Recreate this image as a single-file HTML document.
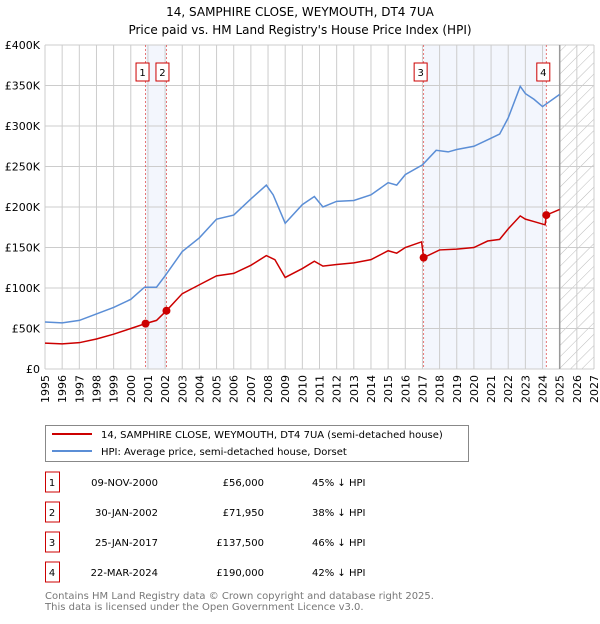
<!DOCTYPE html>
<html><head><meta charset="utf-8"><style>
body{margin:0;background:#fff;font-family:"DejaVu Sans","Liberation Sans",sans-serif;}
svg text{font-family:"DejaVu Sans","Liberation Sans",sans-serif;}
</style></head><body>
<svg id="c" width="600" height="620" viewBox="0 0 600 620">
<text x="300" y="16" text-anchor="middle" font-size="12">14, SAMPHIRE CLOSE, WEYMOUTH, DT4 7UA</text>
<text x="300" y="34" text-anchor="middle" font-size="12">Price paid vs. HM Land Registry's House Price Index (HPI)</text>
<g id="plot"></g>
<g>
<rect x="45.5" y="425.5" width="423" height="36" fill="#fff" stroke="#888"/>
<line x1="52" y1="434" x2="92" y2="434" stroke="#cc0000" stroke-width="2"/>
<text x="101" y="438" font-size="10">14, SAMPHIRE CLOSE, WEYMOUTH, DT4 7UA (semi-detached house)</text>
<line x1="52" y1="451" x2="92" y2="451" stroke="#5b8ed6" stroke-width="2"/>
<text x="101" y="455" font-size="10">HPI: Average price, semi-detached house, Dorset</text>
</g>
<g id="tbl" font-size="10"></g>
<text x="45" y="599" font-size="10" fill="#777">Contains HM Land Registry data © Crown copyright and database right 2025.</text>
<text x="45" y="610" font-size="10" fill="#777">This data is licensed under the Open Government Licence v3.0.</text>
</svg>
<script>
const hpiYears=[1995,1996,1997,1998,1999,2000,2000.8,2001.5,2002,2003,2004,2005,2006,2007,2007.9,2008.3,2009,2010,2010.7,2011.2,2012,2013,2014,2015,2015.5,2016,2017,2017.8,2018.5,2019,2020,2020.8,2021.5,2022,2022.7,2023,2023.5,2024,2025];
const hpiValues=[58,57,60,68,76,86,101,101,115,145,162,185,190,210,227,215,180,203,213,200,207,208,215,230,227,240,252,270,268,271,275,283,290,310,349,340,333,324,339];
const ppYears=[1995,1996,1997,1998,1999,2000,2000.85,2001.5,2002.08,2003,2004,2005,2006,2007,2007.9,2008.4,2009,2010,2010.7,2011.2,2012,2013,2014,2015,2015.5,2016,2016.95,2017.07,2018,2019,2020,2020.8,2021.5,2022,2022.7,2023,2023.5,2024.15,2024.22,2025];
const ppValues=[32,31,32.5,37,43,50,56,60,72,93,104,115,118,128,140,135,113,124,133,127,129,131,135,146,143,150,157,137.5,147,148,150,158,160,173,189,185,182,178,190,197];
const saleYears=[2000.86,2002.08,2017.07,2024.22];
const salePrices=[56,71.95,137.5,190];
const saleLabels=["1","2","3","4"];
const saleDates=["09-NOV-2000","30-JAN-2002","25-JAN-2017","22-MAR-2024"];
const salePriceText=["£56,000","£71,950","£137,500","£190,000"];
const saleHpiText=["45% ↓ HPI","38% ↓ HPI","46% ↓ HPI","42% ↓ HPI"];
const yTicks=[0,50,100,150,200,250,300,350,400];
const yTickLabels=["£0","£50K","£100K","£150K","£200K","£250K","£300K","£350K","£400K"];
const xTicks=[1995,1996,1997,1998,1999,2000,2001,2002,2003,2004,2005,2006,2007,2008,2009,2010,2011,2012,2013,2014,2015,2016,2017,2018,2019,2020,2021,2022,2023,2024,2025,2026,2027];

const L=45,R=594,T=45,B=369;
const X=y=>L+(y-1995)/(2027-1995)*(R-L);
const Y=v=>B-v/400*(B-T);
const NS="http://www.w3.org/2000/svg";
const g=document.getElementById('plot');
function mk(t,a,p){const e=document.createElementNS(NS,t);for(const k in a)e.setAttribute(k,a[k]);(p||g).appendChild(e);return e;}
[[0,1],[2,3]].forEach((p,i)=>{const r=mk('rect',{x:X(saleYears[p[0]]),y:T,width:X(saleYears[p[1]])-X(saleYears[p[0]]),height:B-T,fill:'#f3f6fd'});

});
const defs=mk('defs',{});
const pat=mk('pattern',{id:'h',width:8,height:8,patternUnits:'userSpaceOnUse',patternTransform:'rotate(45)'},defs);
mk('line',{x1:0,y1:0,x2:0,y2:8,stroke:'#bbb','stroke-width':1},pat);
const hr=mk('rect',{x:X(2025),y:T,width:R-X(2025),height:B-T,fill:'url(#h)'});


xTicks.forEach(t=>{mk('line',{x1:X(t),y1:T,x2:X(t),y2:B,stroke:'#ccc'});
const tx=mk('text',{x:0,y:0,'font-size':11,'text-anchor':'end',transform:`translate(${X(t)+4},${B+6}) rotate(-90)`});tx.textContent=t;

});
yTicks.forEach((t,i)=>{mk('line',{x1:L,y1:Y(t),x2:R,y2:Y(t),stroke:'#ccc'});
const tx=mk('text',{x:L-5,y:Y(t)+4,'font-size':11,'text-anchor':'end'});tx.textContent=yTickLabels[i];

});
mk('line',{x1:X(2025),y1:T,x2:X(2025),y2:B,stroke:'#999','stroke-width':1.5});
saleYears.forEach((s,i)=>{mk('line',{x1:X(s),y1:T,x2:X(s),y2:B,stroke:'#e05555','stroke-dasharray':'2,2','stroke-width':0.8});
const cx=X(s)+(i==0?-3:i==1?-4:i==2?-3:-3);
const r=mk('rect',{x:cx-6.5,y:63,width:13,height:18,fill:'#fff',stroke:'#cc0000'});


const t=mk('text',{x:cx,y:76,'font-size':10,'text-anchor':'middle'});t.textContent=saleLabels[i];

});
function line(xs,vs,c,n){const p=mk('polyline',{points:xs.map((x,i)=>X(x)+','+Y(vs[i])).join(' '),fill:'none',stroke:c,'stroke-width':1.5});

}
line(hpiYears,hpiValues,'#5b8ed6','hpi-line');
line(ppYears,ppValues,'#cc0000','price-paid-line');
saleYears.forEach((s,i)=>{const d=mk('circle',{cx:X(s),cy:Y(salePrices[i]),r:4,fill:'#cc0000'});

});
const tb=document.getElementById('tbl');
saleLabels.forEach((l,i)=>{const y=483+i*30;
const r=mk('rect',{x:45.5,y:y-11,width:14,height:20,fill:'#fff',stroke:'#cc0000'},tb);


[[52,l,'middle'],[158,saleDates[i],'end'],[264,salePriceText[i],'end'],[312,saleHpiText[i],'start']].forEach(c=>{
const t=mk('text',{x:c[0],y:y+3,'text-anchor':c[2]},tb);t.textContent=c[1];

});});
</script>
</body></html>
